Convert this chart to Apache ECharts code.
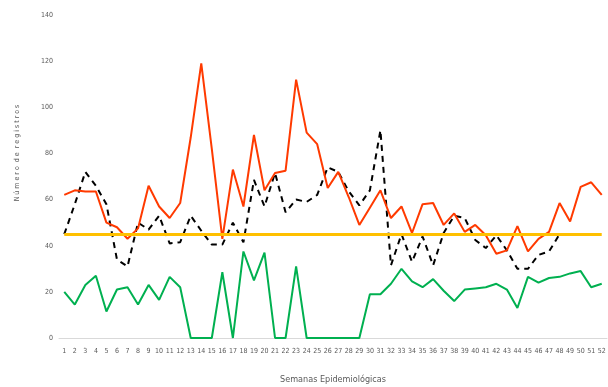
<!DOCTYPE html>
<html>
<head>
<meta charset="utf-8">
<script src="https://cdn.jsdelivr.net/npm/echarts@6/dist/echarts.min.js"></script>
<style>
  html, body { margin: 0; padding: 0; background: #fff; }
  #chart { width: 608px; height: 387px; }
</style>
</head>
<body>
<div id="chart"></div>
<script>
// semanas epidemiologicas 1..52
var semanas = ['1','2','3','4','5','6','7','8','9','10','11','12','13','14','15','16','17','18','19','20',
  '21','22','23','24','25','26','27','28','29','30','31','32','33','34','35','36','37','38','39','40',
  '41','42','43','44','45','46','47','48','49','50','51','52']

// serie roja
var serieRoja = [62, 64, 63.5, 63.5, 50, 48, 43, 47.5, 66, 57, 52, 58.5, 87, 119, 82, 43, 73, 57, 88, 64,
  71.5, 72.5, 112, 89, 84, 65, 72, 61, 49, 56.5, 64, 52, 57, 45.5, 58, 58.5, 49, 54, 46, 49,
  44.5, 36.5, 38, 48.5, 37.5, 43, 46, 58.5, 50.5, 65.5, 67.5, 62]

// serie negra (discontinua), termina en la semana 48
var serieNegra = [45, 58, 72, 66, 58, 34, 31, 50, 47, 53, 41, 41.5, 53, 46.5, 40.5, 40.5, 50, 41.5, 68.5, 57,
  71.5, 54.5, 60, 59, 62, 74, 72, 63.5, 57.5, 64, 90, 31.5, 45, 33, 44, 31.5, 45.5, 53, 52, 42.5,
  39, 44.5, 38, 30, 30, 36, 37.5, 45, null, null, null, null]

// serie verde
var serieVerde = [20, 14.5, 23, 27, 11.5, 21, 22, 14.5, 23, 16.5, 26.5, 22, 0, 0, 0, 28.5, 0, 37.5, 25, 37,
  0, 0, 31, 0, 0, 0, 0, 0, 0, 19, 19, 23.5, 30, 24.5, 22, 25.5, 20.5, 16, 21, 21.5,
  22, 23.5, 21, 13, 26.5, 24, 26, 26.5, 28, 29, 22, 23.5]

var umbral = 45

var fuente = 'Liberation Sans Narrow, DejaVu Sans Condensed, Noto Sans, sans-serif'

var myChart = echarts.init(document.getElementById('chart'))

var option = {
  backgroundColor: '#fff',
  animation: false,
  grid: {
    left: 59,
    right: 1,
    top: 15,
    bottom: 49,
    outerBoundsMode: 'none',
  },
  // titulo del eje Y (algo por encima del centro, como en el original)
  graphic: [
    {
      type: 'text',
      x: 17,
      y: 153,
      rotation: Math.PI / 2,
      style: {
        text: 'N ú m e r o  d e  r e g i s t r o s',
        fill: '#595959',
        fontSize: 7,
        fontFamily: fuente,
        align: 'center',
        verticalAlign: 'middle',
      },
    },
  ],
  xAxis: {
    type: 'category',
    data: semanas,
    boundaryGap: true,
    name: 'Semanas Epidemiológicas',
    nameLocation: 'middle',
    nameGap: 37,
    nameTextStyle: {
      color: '#595959',
      fontSize: 9,
      fontFamily: fuente,
    },
    axisLine: { lineStyle: { color: '#d9d9d9', width: 1 } },
    axisTick: { show: false },
    axisLabel: {
      interval: 0,
      color: '#595959',
      fontSize: 7,
      fontFamily: fuente,
      margin: 10,
    },
  },
  yAxis: {
    type: 'value',
    min: 0,
    max: 140,
    interval: 20,
    axisLine: { show: false },
    axisTick: { show: false },
    splitLine: { show: false },
    axisLabel: {
      color: '#595959',
      fontSize: 7,
      fontFamily: fuente,
      margin: 6,
    },
  },
  series: [
    {
      name: 'Verde',
      type: 'line',
      data: serieVerde,
      symbol: 'none',
      lineStyle: { color: '#00b050', width: 2 },
      z: 2,
    },
    {
      name: 'Negra',
      type: 'line',
      data: serieNegra,
      symbol: 'none',
      lineStyle: { color: '#000', width: 2, type: [6, 5] },
      z: 3,
    },
    {
      name: 'Roja',
      type: 'line',
      data: serieRoja,
      symbol: 'none',
      lineStyle: { color: '#ff3a00', width: 2 },
      z: 4,
      markLine: {
        silent: true,
        symbol: 'none',
        label: { show: false },
        lineStyle: { color: '#ffc000', width: 3, type: 'solid' },
        data: [[
          { coord: [semanas[0], umbral] },
          { coord: [semanas[semanas.length - 1], umbral] },
        ]],
      },
    },
  ],
}

myChart.setOption(option)
</script>
</body>
</html>
